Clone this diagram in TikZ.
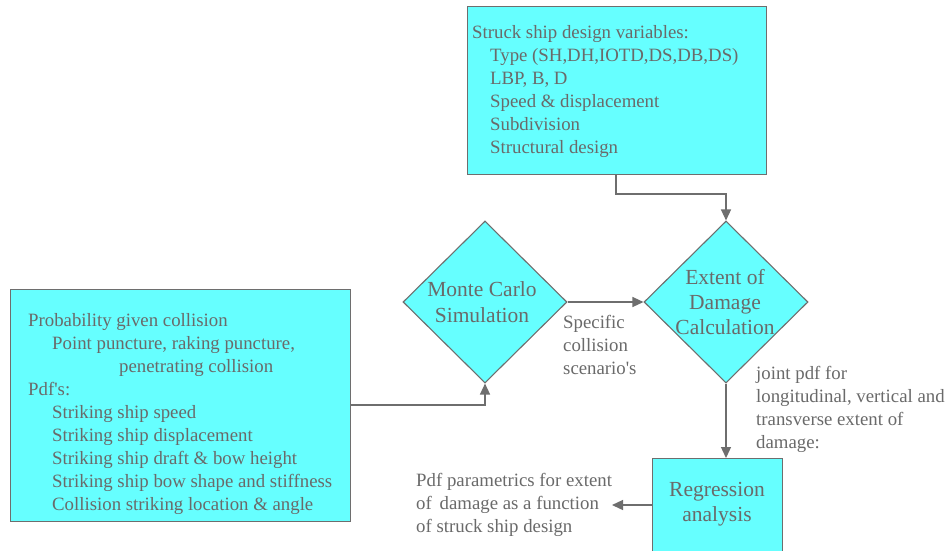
\documentclass[tikz,border=0pt]{standalone}
\usepackage{fontspec}
\newfontfamily\rmf{Liberation Serif}
\usetikzlibrary{shapes.geometric,arrows.meta}
\definecolor{boxfill}{HTML}{66FFFF}
\definecolor{ln}{HTML}{6E6E6E}
\definecolor{tx}{HTML}{6A6A6A}
\begin{document}
\begin{tikzpicture}[x=1pt,y=-1pt,
  box/.style={draw=ln,fill=boxfill,line width=1.3pt,inner sep=0pt,anchor=north west},
  dia/.style={draw=ln,fill=boxfill,line width=1.1pt,diamond,inner sep=0pt},
  txt/.style={text=tx,font=\rmf\fontsize{18.8}{23}\selectfont,inner sep=0pt},
  big/.style={text=tx,font=\rmf\fontsize{21.5}{25.3}\selectfont,inner sep=0pt},
  conn/.style={draw=ln,line width=1.3pt,-{Triangle[length=11pt,width=10pt]}},
  plain/.style={draw=ln,line width=1.3pt}]
\useasboundingbox (0,0) rectangle (947,550);
\fill[white] (0,0) rectangle (947,550);
% top box
\node[box,minimum width=299,minimum height=168] (top) at (467,6) {};
\node[txt,anchor=west,align=left] (toptxt) at (472,91.5) {Struck ship design variables:\\
\hspace*{18pt}Type (SH,DH,IOTD,DS,DB,DS)\\
\hspace*{18pt}LBP, B, D\\
\hspace*{18pt}Speed \& displacement\\
\hspace*{18pt}Subdivision\\
\hspace*{18pt}Structural design};
% left box
\node[box,minimum width=340,minimum height=232] (left) at (10,289) {};
\node[txt,anchor=west,align=left] (lefttxt) at (28,414) {Probability given collision\\
\hspace*{24pt}Point puncture, raking puncture,\\
\hspace*{91pt}penetrating collision\\
Pdf's:\\
\hspace*{24pt}Striking ship speed\\
\hspace*{24pt}Striking ship displacement\\
\hspace*{24pt}Striking ship draft \& bow height\\
\hspace*{24pt}Striking ship bow shape and stiffness\\
\hspace*{24pt}Collision striking location \& angle};
% diamonds
\node[dia,minimum width=164,minimum height=162] (mc) at (485,302) {};
\node[big,align=center] (mctxt) at (482,302) {Monte Carlo\\Simulation};
\node[dia,minimum width=164,minimum height=162] (ext) at (726,302) {};
\node[big,align=center] (exttxt) at (725,302) {Extent of\\Damage\\Calculation};
% regression box
\node[box,minimum width=130,minimum height=110] (reg) at (652,458) {};
\node[big,align=center] (regtxt) at (717,504) {Regression\\analysis};
% labels
\node[txt,anchor=west,align=left] (spec) at (563,345) {Specific\\collision\\scenario's};
\node[txt,anchor=west,align=left] (joint) at (756,409.5) {joint pdf for\\longitudinal, vertical and\\transverse extent of\\damage:};
\node[txt,anchor=west,align=left] (pdfp) at (416,505) {Pdf parametrics for extent\\of\ \,damage as a function\\of struck ship design};
\coordinate (pdfend) at (612,505);
% connectors
\draw[conn] (616,174) |- (726,194) -- (ext.north);
\draw[conn] (mc.east) -- (ext.west);
\draw[conn] (left.east |- 0,405) -| (mc.south);
\draw[conn] (ext.south) -- (726,458);
\draw[conn] (652,505) -- (pdfend);
\end{tikzpicture}
\end{document}
